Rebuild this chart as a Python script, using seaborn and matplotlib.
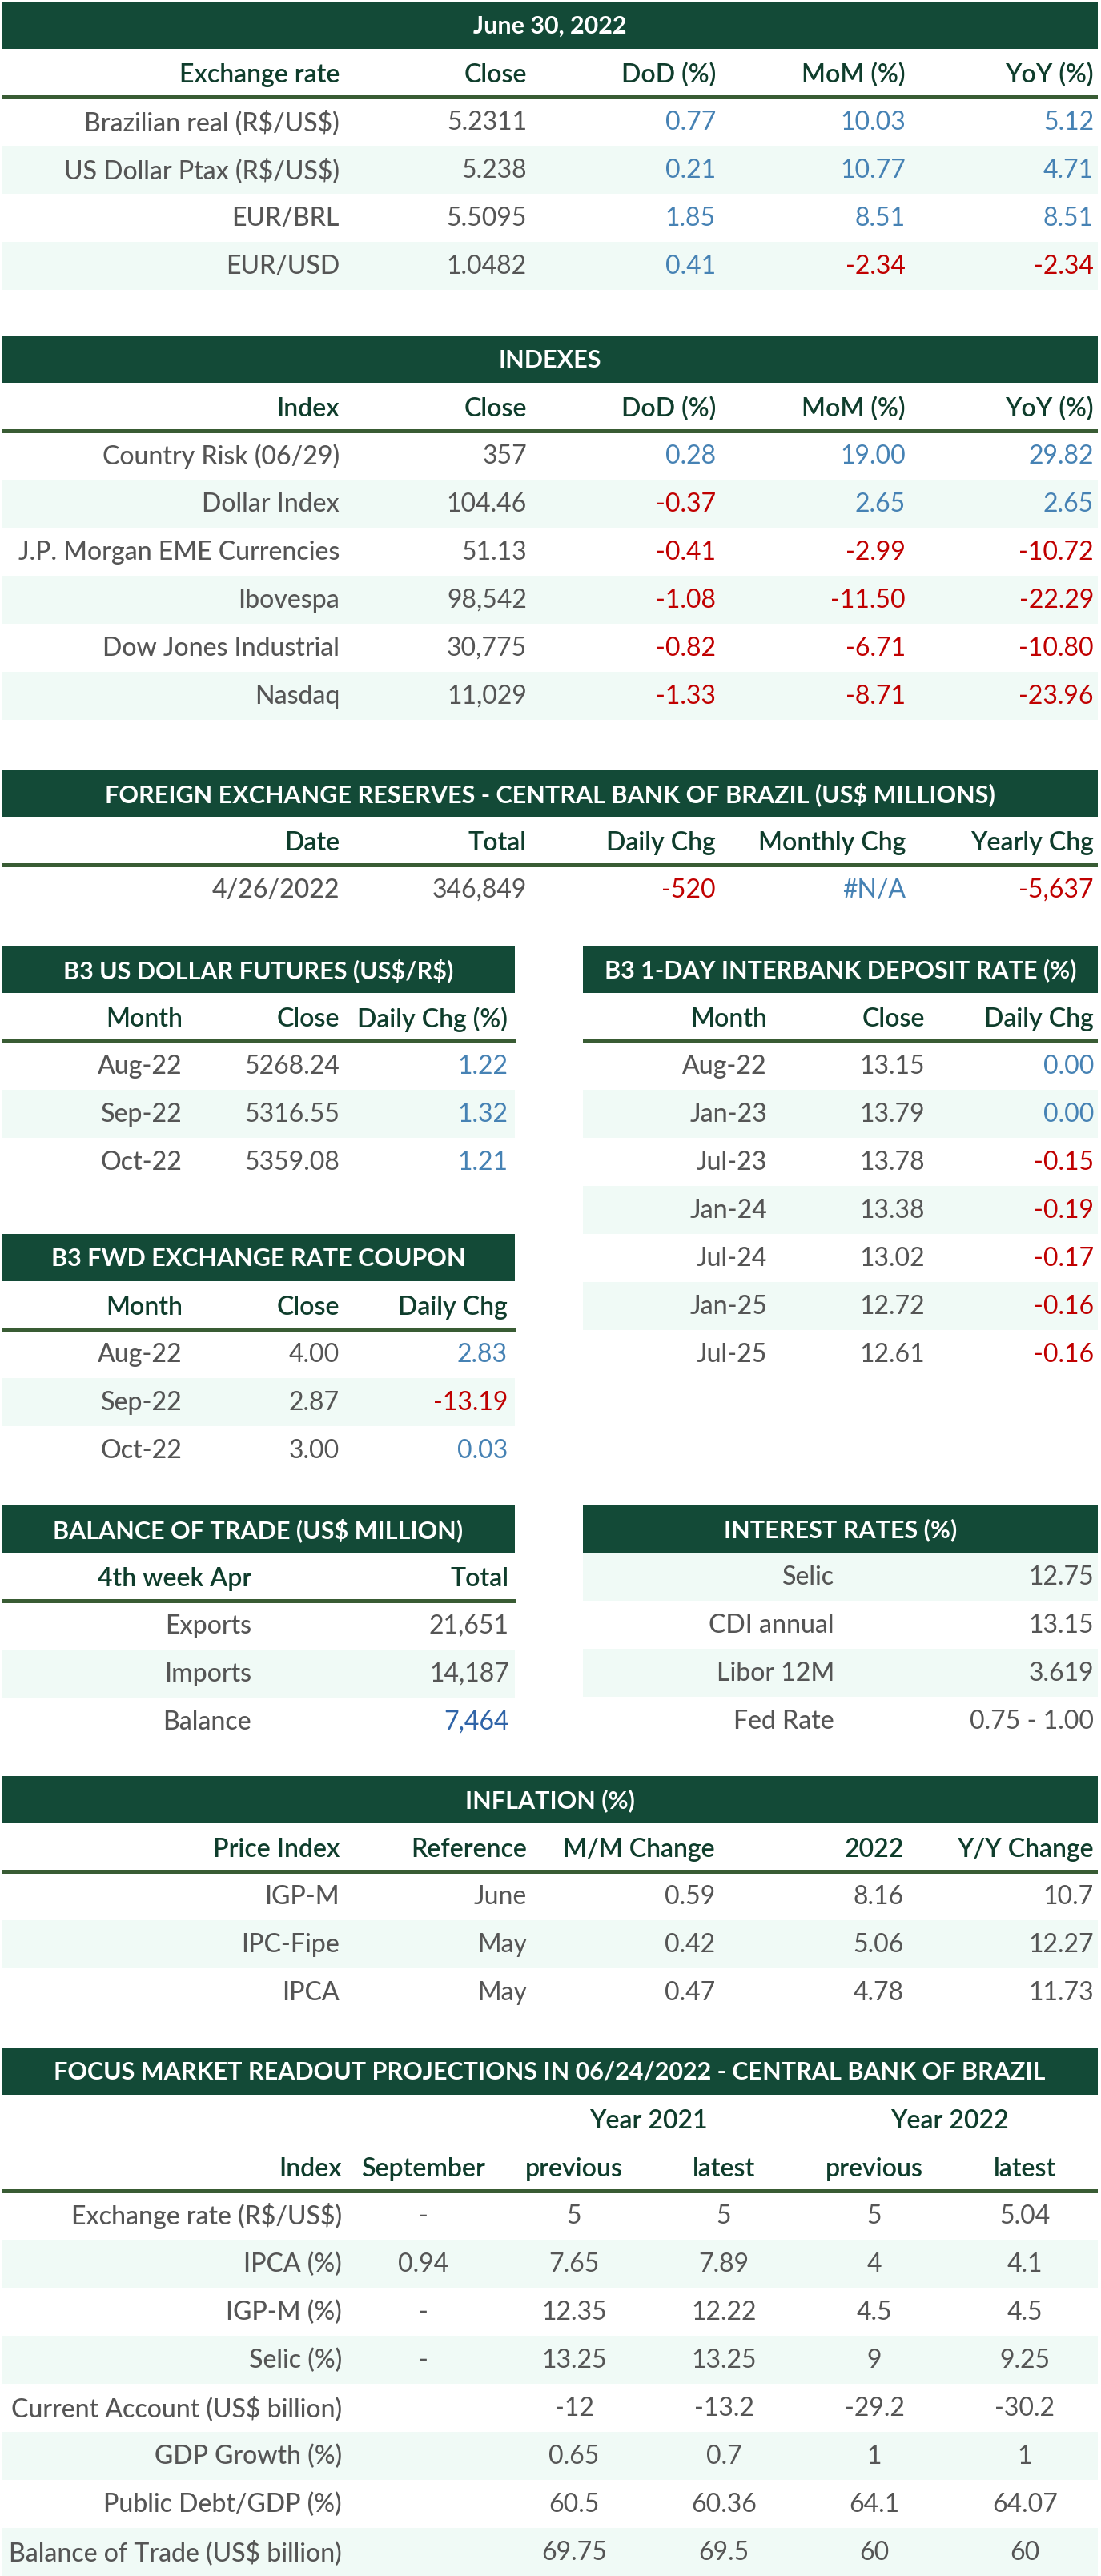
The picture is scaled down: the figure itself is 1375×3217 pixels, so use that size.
import matplotlib
matplotlib.use("Agg")
import matplotlib.pyplot as plt
from matplotlib.patches import Rectangle
import seaborn as sns

# ---- data ----
rate_names = ["Brazilian real (R$/US$)", "US Dollar Ptax (R$/US$)", "EUR/BRL", "EUR/USD"]
rate_close = ["5.2311", "5.238", "5.5095", "1.0482"]
rate_dod = ["0.77", "0.21", "1.85", "0.41"]
rate_mom = ["10.03", "10.77", "8.51", "-2.34"]
rate_yoy = ["5.12", "4.71", "8.51", "-2.34"]

index_names = ["Country Risk (06/29)", "Dollar Index", "J.P. Morgan EME Currencies",
               "Ibovespa", "Dow Jones Industrial", "Nasdaq"]
index_close = ["357", "104.46", "51.13", "98,542", "30,775", "11,029"]
index_dod = ["0.28", "-0.37", "-0.41", "-1.08", "-0.82", "-1.33"]
index_mom = ["19.00", "2.65", "-2.99", "-11.50", "-6.71", "-8.71"]
index_yoy = ["29.82", "2.65", "-10.72", "-22.29", "-10.80", "-23.96"]

reserve_date = ["4/26/2022"]
reserve_total = ["346,849"]
reserve_daily = ["-520"]
reserve_monthly = ["#N/A"]
reserve_yearly = ["-5,637"]

fut_months = ["Aug-22", "Sep-22", "Oct-22"]
fut_close = ["5268.24", "5316.55", "5359.08"]
fut_chg = ["1.22", "1.32", "1.21"]

di_months = ["Aug-22", "Jan-23", "Jul-23", "Jan-24", "Jul-24", "Jan-25", "Jul-25"]
di_close = ["13.15", "13.79", "13.78", "13.38", "13.02", "12.72", "12.61"]
di_chg = ["0.00", "0.00", "-0.15", "-0.19", "-0.17", "-0.16", "-0.16"]

fwd_months = ["Aug-22", "Sep-22", "Oct-22"]
fwd_close = ["4.00", "2.87", "3.00"]
fwd_chg = ["2.83", "-13.19", "0.03"]

trade_items = ["Exports", "Imports", "Balance"]
trade_total = ["21,651", "14,187", "7,464"]

rate_items = ["Selic", "CDI annual", "Libor 12M", "Fed Rate"]
rate_values = ["12.75", "13.15", "3.619", "0.75 - 1.00"]

infl_index = ["IGP-M", "IPC-Fipe", "IPCA"]
infl_ref = ["June", "May", "May"]
infl_mm = ["0.59", "0.42", "0.47"]
infl_2022 = ["8.16", "5.06", "4.78"]
infl_yy = ["10.7", "12.27", "11.73"]

focus_names = ["Exchange rate (R$/US$)", "IPCA (%)", "IGP-M (%)", "Selic (%)",
               "Current Account (US$ billion)", "GDP Growth (%)",
               "Public Debt/GDP (%)", "Balance of Trade (US$ billion)"]
focus_sept = ["-", "0.94", "-", "-", "", "", "", ""]
focus_prev21 = ["5", "7.65", "12.35", "13.25", "-12", "0.65", "60.5", "69.75"]
focus_last21 = ["5", "7.89", "12.22", "13.25", "-13.2", "0.7", "60.36", "69.5"]
focus_prev22 = ["5", "4", "4.5", "9", "-29.2", "1", "64.1", "60"]
focus_last22 = ["5.04", "4.1", "4.5", "9.25", "-30.2", "1", "64.07", "60"]

# ---- style ----
BAND = "#134a37"
HEAD = "#0f3d2c"
RULE = "#395c34"
GREY = "#555555"
BLUE = "#4682b4"
RED = "#c00000"
SHADE = "#f0faf6"
ROW_H = 60
FS = 23
FS_BAND = 22

sns.set_theme(style="white")
plt.rcParams["font.family"] = ["Lato", "DejaVu Sans"]

fig = plt.figure(figsize=(13.75, 32.17), dpi=100)
ax = fig.add_axes([0, 0, 1, 1])
ax.set_xlim(0, 1375)
ax.set_ylim(3217, 0)
ax.axis("off")


def band(x0, x1, top, title):
    ax.add_patch(Rectangle((x0, top), x1 - x0, 59, color=BAND, lw=0))
    ax.text((x0 + x1) / 2, top + 31, title, color="white", fontsize=FS_BAND,
            fontweight="bold", ha="center", va="center", parse_math=False)


def header(xs, labels, y, x0, x1, rule=True, ha="right"):
    for x, lab in zip(xs, labels):
        ax.text(x, y, lab, color=HEAD, fontsize=FS, fontweight="semibold",
                ha=ha, va="center", parse_math=False)
    if rule:
        ax.add_patch(Rectangle((x0, y + 25), x1 - x0, 4.5, color=RULE, lw=0))


def value_color(v, mode):
    if mode == "sign":
        return RED if v.startswith("-") else BLUE
    return mode


def rows(x0, x1, top, xs, cols, modes, ha="right", shade_first=False):
    n = len(cols[0])
    for i in range(n):
        y = top + i * ROW_H
        if (i % 2 == 1) != shade_first:
            ax.add_patch(Rectangle((x0, y), x1 - x0, ROW_H, color=SHADE, lw=0))
        for j, (x, col, mode) in enumerate(zip(xs, cols, modes)):
            al = "right" if j == 0 else ha
            wt = "medium" if j == 0 else "normal"
            c = mode[i] if isinstance(mode, list) else value_color(col[i], mode)
            ax.text(x, y + ROW_H / 2 + 1, col[i], color=c, fontsize=FS,
                    fontweight=wt, ha=al, va="center", parse_math=False)


full_xs = [424, 658, 894, 1131, 1366]
L0, L1, R0, R1 = 2, 643, 728, 1371

# exchange rates
T = 2
band(L0, R1, T, "June 30, 2022")
header(full_xs, ["Exchange rate", "Close", "DoD (%)", "MoM (%)", "YoY (%)"], T + 92, L0, R1)
rows(L0, R1, T + 120, full_xs, [rate_names, rate_close, rate_dod, rate_mom, rate_yoy],
     [GREY, GREY, "sign", "sign", "sign"])

# indexes
T = 419
band(L0, R1, T, "INDEXES")
header(full_xs, ["Index", "Close", "DoD (%)", "MoM (%)", "YoY (%)"], T + 92, L0, R1)
rows(L0, R1, T + 120, full_xs, [index_names, index_close, index_dod, index_mom, index_yoy],
     [GREY, GREY, "sign", "sign", "sign"])

# reserves
T = 961
band(L0, R1, T, "FOREIGN EXCHANGE RESERVES - CENTRAL BANK OF BRAZIL (US$ MILLIONS)")
header(full_xs, ["Date", "Total", "Daily Chg", "Monthly Chg", "Yearly Chg"], T + 92, L0, R1)
rows(L0, R1, T + 120, full_xs,
     [reserve_date, reserve_total, reserve_daily, reserve_monthly, reserve_yearly],
     [GREY, GREY, "sign", "sign", "sign"])

# futures / interbank
T = 1181
left_xs = [228, 424, 634]
right_xs = [958, 1155, 1366]
band(L0, L1, T, "B3 US DOLLAR FUTURES (US$/R$)")
header(left_xs, ["Month", "Close", "Daily Chg (%)"], T + 92, L0, L1 + 2)
rows(L0, L1, T + 120, left_xs, [fut_months, fut_close, fut_chg], [GREY, GREY, "sign"])

band(R0, R1, T, "B3 1-DAY INTERBANK DEPOSIT RATE (%)")
header(right_xs, ["Month", "Close", "Daily Chg"], T + 92, R0, R1)
rows(R0, R1, T + 120, right_xs, [di_months, di_close, di_chg], [GREY, GREY, "sign"])

T = 1541
band(L0, L1, T, "B3 FWD EXCHANGE RATE COUPON")
header(left_xs, ["Month", "Close", "Daily Chg"], T + 92, L0, L1 + 2)
rows(L0, L1, T + 120, left_xs, [fwd_months, fwd_close, fwd_chg], [GREY, GREY, "sign"])

# balance of trade / interest rates
T = 1880
trade_xs = [314, 636]
band(L0, L1, T, "BALANCE OF TRADE (US$ MILLION)")
header(trade_xs, ["4th week Apr", "Total"], T + 92, L0, L1 + 2)
rows(L0, L1, T + 120, trade_xs, [trade_items, trade_total],
     [GREY, [GREY, GREY, "#2f64a8"]])

band(R0, R1, T, "INTEREST RATES (%)")
rows(R0, R1, T + 59, [1042, 1366], [rate_items, rate_values], [GREY, GREY],
     shade_first=True)

# inflation
T = 2218
infl_xs = [424, 658, 893, 1129, 1366]
band(L0, R1, T, "INFLATION (%)")
header(infl_xs, ["Price Index", "Reference", "M/M Change", "2022", "Y/Y Change"], T + 92, L0, R1)
rows(L0, R1, T + 120, infl_xs, [infl_index, infl_ref, infl_mm, infl_2022, infl_yy],
     [GREY] * 5)

# focus
T = 2557
focus_xs = [427, 529, 717, 904, 1092, 1280]
band(L0, R1, T, "FOCUS MARKET READOUT PROJECTIONS IN 06/24/2022 - CENTRAL BANK OF BRAZIL")
header([810, 1186], ["Year 2021", "Year 2022"], T + 92, L0, R1, rule=False, ha="center")
header(focus_xs[:1], ["Index"], T + 152, L0, R1)
header(focus_xs[1:], ["September", "previous", "latest", "previous", "latest"],
       T + 152, L0, R1, rule=False, ha="center")
rows(L0, R1, T + 180, focus_xs,
     [focus_names, focus_sept, focus_prev21, focus_last21, focus_prev22, focus_last22],
     [GREY] * 6, ha="center")

fig.savefig("out.png", dpi=100, facecolor="white")
